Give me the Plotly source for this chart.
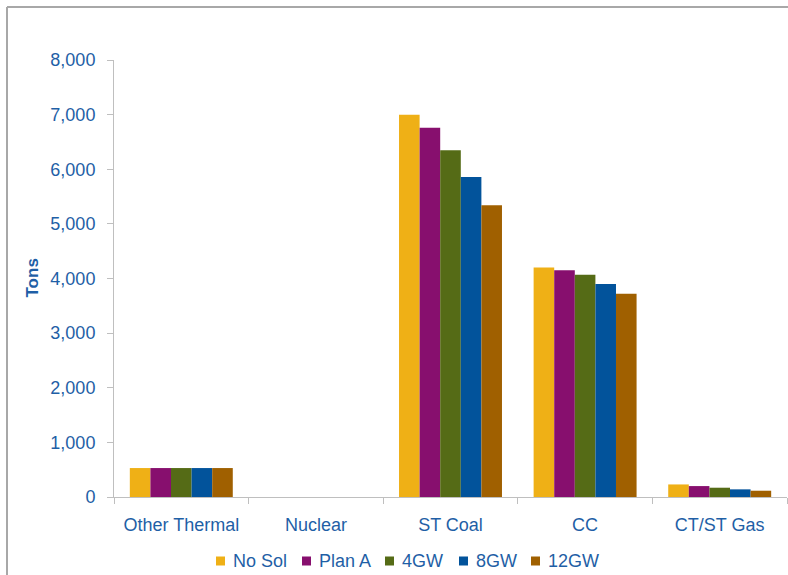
import plotly.graph_objects as go

categories = ["Other Thermal", "Nuclear", "ST Coal", "CC", "CT/ST Gas"]

series_names = ["No Sol", "Plan A", "4GW", "8GW", "12GW"]
no_sol = [530, 0, 7000, 4200, 230]
plan_a = [530, 0, 6760, 4150, 200]
gw4 = [530, 0, 6350, 4070, 170]
gw8 = [530, 0, 5860, 3900, 140]
gw12 = [530, 0, 5340, 3720, 115]

series_values = [no_sol, plan_a, gw4, gw8, gw12]
series_colors = ["#EFB016", "#870F6E", "#556B16", "#02539B", "#A06000"]

y_ticks = [0, 1000, 2000, 3000, 4000, 5000, 6000, 7000, 8000]

text_blue = "#1F5FA6"
axis_gray = "#BFBFBF"
font_family = "Liberation Sans, Arial, sans-serif"

W, H = 788, 575
L, R, T, B = 114, 1, 60, 78
pw, ph = W - L - R, H - T - B


def px_x(x):
    return (x - L) / pw


def px_y(y):
    return (H - B - y) / ph


fig = go.Figure()
for name, vals, col in zip(series_names, series_values, series_colors):
    fig.add_trace(go.Bar(
        x=categories, y=vals, name=name, showlegend=False,
        marker=dict(color=col, line=dict(width=0)),
    ))

# Compact legend row below the axis: a small swatch followed by the name
legend_text_px = [231, 317, 400, 474, 546]
legend_row_y = 561
swatch = 9
legend_shapes = []
legend_notes = []
for name, col, tx in zip(series_names, series_colors, legend_text_px):
    legend_shapes.append(dict(
        type="rect", xref="paper", yref="paper",
        x0=px_x(tx - 15), x1=px_x(tx - 15 + swatch),
        y0=px_y(legend_row_y + swatch / 2), y1=px_y(legend_row_y - swatch / 2),
        fillcolor=col, line=dict(width=0),
    ))
    legend_notes.append(dict(
        text=name, xref="paper", yref="paper",
        x=px_x(tx), y=px_y(legend_row_y),
        xanchor="left", yanchor="middle", showarrow=False,
        font=dict(size=18, color=text_blue),
    ))

frame_shapes = [
    dict(type="line", xref="paper", yref="paper",
         x0=px_x(7), x1=px_x(7), y0=px_y(7), y1=px_y(H + 5),
         line=dict(color="#A8A8A8", width=2)),
    dict(type="line", xref="paper", yref="paper",
         x0=px_x(7), x1=px_x(W + 5), y0=px_y(7), y1=px_y(7),
         line=dict(color="#A8A8A8", width=2)),
]

fig.update_layout(
    width=W, height=H,
    margin=dict(l=L, r=R, t=T, b=B),
    paper_bgcolor="white", plot_bgcolor="white",
    barmode="group", bargap=0.235, bargroupgap=0,
    font=dict(family=font_family, size=18, color=text_blue),
    xaxis=dict(
        showline=True, linecolor=axis_gray, linewidth=1,
        ticks="outside", tickson="boundaries", ticklen=6, tickcolor=axis_gray,
        tickfont=dict(size=18, color=text_blue),
        ticklabelstandoff=11,
        showgrid=False, zeroline=False,
    ),
    yaxis=dict(
        range=[0, 8000], tickvals=y_ticks, tickformat=",d",
        showline=True, linecolor=axis_gray, linewidth=1,
        ticks="outside", ticklen=6, tickcolor=axis_gray,
        tickfont=dict(size=18, color=text_blue),
        ticklabelstandoff=8,
        showgrid=False, zeroline=False,
    ),
    annotations=[dict(
        text="<b>Tons</b>", textangle=-90,
        xref="paper", yref="paper", x=px_x(32), y=0.5,
        xanchor="center", yanchor="middle", showarrow=False,
        font=dict(size=17, color=text_blue),
    )] + legend_notes,
    shapes=frame_shapes + legend_shapes,
)

fig.write_html("out.html")
